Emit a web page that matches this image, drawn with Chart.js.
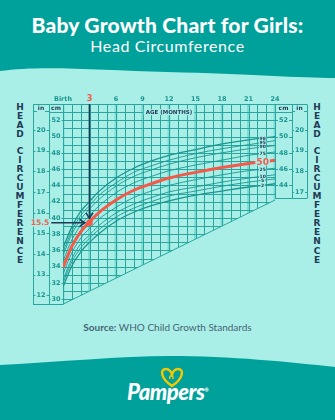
<!DOCTYPE html>
<html><head><meta charset="utf-8">
<script src="https://cdn.jsdelivr.net/npm/chart.js@4"></script>
<style>
html,body{margin:0;padding:0;}
body{width:335px;height:420px;overflow:hidden;position:relative;background:#a9efe8;font-family:Lato,"Open Sans",sans-serif;}
#bg{position:absolute;left:0;top:0;}
#c{position:absolute;left:0;top:0;}
.t{position:absolute;left:0;width:335px;text-align:center;white-space:nowrap;}
#title{top:14px;color:#fff;font-weight:900;font-size:21px;line-height:21px;letter-spacing:0.2px;}
#sub{top:37px;color:#fff;font-weight:400;font-size:16px;line-height:17px;letter-spacing:0.6px;}
#src{top:321px;color:#456472;font-size:10px;line-height:12px;}
#src b{font-weight:700;}
#logo{top:378px;color:#fff;font-weight:900;font-size:22px;line-height:24px;font-style:italic;letter-spacing:-0.5px;}
#logo sup{font-size:5px;font-style:normal;}
.v{position:absolute;width:12px;text-align:center;color:#1f3a55;font-weight:700;font-size:9px;line-height:9.05px;font-family:"DejaVu Sans",sans-serif;}
</style></head>
<body>
<svg id="bg" width="335" height="420">
  <path d="M0,0 H335 V78 C300,78 250,74 167,72 C100,70 40,65 0,71 Z" fill="#00a19b"/>
  <path d="M0,365 C60,362 120,356 170,356 C230,356 290,362 335,367 V420 H0 Z" fill="#00a19b"/>
  <path d="M172,386 C160,378 160,369 166,369 C170,369 172,373 172,376 C172,373 174,369 178,369 C184,369 184,378 172,386 Z" fill="none" stroke="#f6c800" stroke-width="2.4" stroke-linejoin="round"/>
  <path d="M170,379 C168,375 174,374 173,379" fill="none" stroke="#f6c800" stroke-width="1.4"/>
</svg>
<div class="t" id="title">Baby Growth Chart for Girls:</div>
<div class="t" id="sub">Head Circumference</div>
<div class="t" id="src"><b>Source:</b> WHO Child Growth Standards</div>
<div class="t" id="logo">Pampers<sup>®</sup></div>
<div class="v" style="left:14px;top:103px;">H<br>E<br>A<br>D</div>
<div class="v" style="left:14px;top:147px;">C<br>I<br>R<br>C<br>U<br>M<br>F<br>E<br>R<br>E<br>N<br>C<br>E</div>
<div class="v" style="left:311px;top:103px;">H<br>E<br>A<br>D</div>
<div class="v" style="left:311px;top:147px;">C<br>I<br>R<br>C<br>U<br>M<br>F<br>E<br>R<br>E<br>N<br>C<br>E</div>
<canvas id="c" width="335" height="420"></canvas>
<script>
// ---- data ----
const months = [0,1,2,3,4,6,8,10,12,15,18,21,24];
const p98 = [36.3,38.9,40.8,42.0,43.2,44.9,46.1,47.0,47.7,48.4,49.1,49.6,50.0];
const p95 = [35.8,38.4,40.3,41.5,42.7,44.3,45.6,46.4,47.1,47.9,48.5,49.0,49.5];
const p90 = [35.4,38.0,39.8,41.1,42.2,43.9,45.1,45.9,46.6,47.4,48.0,48.5,48.9];
const p75 = [34.7,37.3,39.1,40.3,41.4,43.1,44.3,45.1,45.8,46.5,47.1,47.7,48.1];
const p50 = [33.9,36.5,38.3,39.5,40.6,42.2,43.4,44.2,44.9,45.6,46.2,46.7,47.1];
const p25 = [33.1,35.7,37.5,38.7,39.8,41.3,42.5,43.3,44.0,44.7,45.3,45.8,46.1];
const p10 = [32.4,35.0,36.8,37.9,39.0,40.6,41.7,42.5,43.2,43.8,44.4,44.9,45.3];
const p5  = [32.0,34.6,36.3,37.5,38.5,40.1,41.2,42.0,42.7,43.3,43.9,44.4,44.8];
const p2  = [31.5,34.1,35.8,37.0,38.0,39.6,40.7,41.5,42.1,42.8,43.3,43.8,44.2];
const pctLabels = ['98','95','90','75','50','25','10','5','2'];
const xTickValues = [0,3,6,9,12,15,18,21,24];
const xTickLabels = ['Birth','3','6','9','12','15','18','21','24'];
const cmTicksLeft = [30,32,34,36,38,40,42,44,46,48,50,52];
const cmTicksRight = [44,46,48,50,52];
const inTicksLeft = [12,13,14,15,16,17,18,19,20];
const inTicksRight = [17,18,19,20];
const markMonth = 3, markCm = 39.4, markIn = '15.5';
const diagCmStart = 29.4, diagCmEnd = 42.2;   // slanted lower edge of the grid
const yMin = 29.3, yMax = 54;

const TEAL='#1b9690', GRID='#2aa69f', NAVY='#1e3a55', RED='#f35a4a', BG='#a9efe8';
const series=[p98,p95,p90,p75,p50,p25,p10,p5,p2];

const ds = series.map((arr,i)=>({
  label: pctLabels[i],
  data: arr.map((v,j)=>({x:months[j],y:v})),
  borderColor: pctLabels[i]==='50'?RED:TEAL,
  borderWidth: pctLabels[i]==='50'?3:((i===0||i===8)?1.3:0.9),
  pointRadius:0, fill:false, cubicInterpolationMode:'monotone',
  order: pctLabels[i]==='50'?0:1
}));

function line(ctx,x1,y1,x2,y2){ctx.beginPath();ctx.moveTo(x1,y1);ctx.lineTo(x2,y2);ctx.stroke();}
function interp(arr,m){for(let j=0;j<months.length-1;j++){if(m>=months[j]&&m<=months[j+1]){const t=(m-months[j])/(months[j+1]-months[j]);return arr[j]+(arr[j+1]-arr[j])*t;}}return arr[arr.length-1];}

const gridPlugin={
  id:'grid',
  beforeDatasetsDraw(c){
    const ctx=c.ctx,X=c.scales.x,Y=c.scales.y,a=c.chartArea;
    const dY=m=>Y.getPixelForValue(diagCmStart+(diagCmEnd-diagCmStart)*m/24);
    ctx.save();
    ctx.beginPath();ctx.moveTo(a.left,a.top);ctx.lineTo(a.right,a.top);
    ctx.lineTo(a.right,dY(24));ctx.lineTo(a.left,dY(0));ctx.closePath();ctx.clip();
    ctx.strokeStyle='rgba(70,200,190,0.45)';ctx.lineWidth=3;
    for(const m of xTickValues){const x=X.getPixelForValue(m);line(ctx,x,a.top,x,a.bottom);}
    ctx.strokeStyle=GRID;ctx.lineWidth=1;
    for(let m=0;m<=24;m++){const x=Math.round(X.getPixelForValue(m))+0.5;line(ctx,x,a.top,x,a.bottom);}
    for(let cm=30;cm<=54;cm++){const y=Math.round(Y.getPixelForValue(cm))+0.5;line(ctx,a.left,y,a.right,y);}
    ctx.restore();
    ctx.strokeStyle=GRID;ctx.lineWidth=1;
    line(ctx,a.left,dY(0),a.right,dY(24));
    const topY=Math.round(Y.getPixelForValue(54))+0.5, hdrY=Math.round(Y.getPixelForValue(53))+0.5;
    const botL=Math.round(dY(0))+0.5, botR=Math.round(dY(24))-1.5;
    const inL=a.left-30, cmL=a.left-14, cmR=a.right+17, inR=a.right+32;
    ctx.strokeStyle=GRID;
    line(ctx,inL+0.5,topY,inL+0.5,botL);line(ctx,cmL+0.5,topY,cmL+0.5,botL);line(ctx,a.left+0.5,topY,a.left+0.5,botL);
    line(ctx,inL,topY,a.left,topY);line(ctx,inL,botL,a.left,botL);
    line(ctx,cmR+0.5,topY,cmR+0.5,botR);line(ctx,inR+0.5,topY,inR+0.5,botR);line(ctx,a.right+0.5,topY,a.right+0.5,botR);
    line(ctx,a.right,topY,inR,topY);line(ctx,a.right,botR,inR,botR);
    line(ctx,cmL,hdrY,a.left,hdrY);line(ctx,a.right,hdrY,cmR,hdrY);
    ctx.fillStyle=NAVY;ctx.font='bold 6px "DejaVu Sans"';ctx.textAlign='center';ctx.textBaseline='middle';
    const hy=(topY+hdrY)/2;
    ctx.fillText('in',(inL+cmL)/2,hy);ctx.fillText('cm',(cmL+a.left)/2,hy);
    ctx.fillText('cm',(a.right+cmR)/2,hy);ctx.fillText('in',(cmR+inR)/2,hy);
    line(ctx,inL,hdrY-1,inL+4,hdrY-1);line(ctx,cmL-4,hdrY-1,cmL,hdrY-1);
    line(ctx,cmR,hdrY-1,cmR+3,hdrY-1);line(ctx,inR-3,hdrY-1,inR,hdrY-1);
    ctx.font='bold 6.5px "DejaVu Sans"';
    const tick=(l,r,y,txt,col)=>{
      ctx.fillStyle=col||TEAL;ctx.strokeStyle=GRID;
      const w=ctx.measureText(txt).width,cx=(l+r)/2;
      const yy=Math.round(y)+0.5;
      line(ctx,l,yy,cx-w/2-1,yy);line(ctx,cx+w/2+1,yy,r,yy);
      ctx.fillText(txt,cx,y);
    };
    for(const v of cmTicksLeft) tick(cmL,a.left,Y.getPixelForValue(v),String(v));
    for(const v of cmTicksRight) tick(a.right,cmR,Y.getPixelForValue(v),String(v));
    for(const v of inTicksLeft) tick(inL,cmL,Y.getPixelForValue(v*2.54),String(v));
    for(const v of inTicksRight) tick(cmR,inR,Y.getPixelForValue(v*2.54),String(v));
    ctx.textBaseline='middle';
    xTickValues.forEach((m,i)=>{
      const x=X.getPixelForValue(m);
      if(m===markMonth){ctx.fillStyle=RED;ctx.font='bold 8px "DejaVu Sans"';}
      else {ctx.fillStyle=TEAL;ctx.font='bold 6.5px "DejaVu Sans"';}
      ctx.fillText(xTickLabels[i],x,99);
    });
    ctx.font='bold 5.5px "DejaVu Sans"';
    const ay=Y.getPixelForValue(53), ax=(a.left+a.right)/2;
    const aw=ctx.measureText('AGE (MONTHS)').width;
    ctx.fillStyle=BG;ctx.fillRect(ax-aw/2-2,ay-3,aw+4,6);
    ctx.fillStyle=NAVY;ctx.fillText('AGE (MONTHS)',ax,ay+0.5);
  },
  afterDatasetsDraw(c){
    const ctx=c.ctx,X=c.scales.x,Y=c.scales.y,a=c.chartArea;
    const lm=22.6, lx=X.getPixelForValue(lm);
    series.forEach((arr,i)=>{
      const y=Y.getPixelForValue(interp(arr,lm));
      if(pctLabels[i]==='50'){
        ctx.font='bold 9px "DejaVu Sans"';const w=ctx.measureText('50').width;
        ctx.fillStyle=BG;ctx.fillRect(lx-w/2-1,y-4,w+2,8);
        ctx.fillStyle=RED;ctx.textAlign='center';ctx.textBaseline='middle';ctx.fillText('50',lx,y+0.5);
      } else {
        ctx.font='bold 4.5px "DejaVu Sans"';const w=ctx.measureText(pctLabels[i]).width;
        ctx.fillStyle=BG;ctx.fillRect(lx-w/2-0.5,y-1.8,w+1,3.6);
        ctx.fillStyle=NAVY;ctx.textAlign='center';ctx.textBaseline='middle';ctx.fillText(pctLabels[i],lx,y+0.3);
      }
    });
    const mx=X.getPixelForValue(markMonth), my=Y.getPixelForValue(markCm);
    ctx.strokeStyle=NAVY;ctx.fillStyle=NAVY;ctx.lineWidth=1.5;
    line(ctx,mx,Y.getPixelForValue(54),mx,my-5);
    ctx.beginPath();ctx.moveTo(mx-3.5,my-10);ctx.lineTo(mx,my-4.5);ctx.lineTo(mx+3.5,my-10);ctx.stroke();
    line(ctx,a.left-12,my,mx-5,my);
    ctx.beginPath();ctx.moveTo(mx-10,my-3.5);ctx.lineTo(mx-4.5,my);ctx.lineTo(mx-10,my+3.5);ctx.stroke();
    ctx.fillStyle=RED;ctx.beginPath();ctx.arc(mx,my,3.3,0,Math.PI*2);ctx.fill();
    ctx.font='bold 7.5px "DejaVu Sans"';ctx.textAlign='center';ctx.textBaseline='middle';
    const inL=a.left-30, cmL=a.left-14;
    const w=ctx.measureText(markIn).width;
    ctx.fillStyle=BG;ctx.fillRect((inL+cmL)/2-w/2-1,my-4,w+2,8);
    ctx.fillStyle=RED;ctx.fillText(markIn,(inL+cmL)/2-1,my+0.5);
  }
};

new Chart(document.getElementById('c'),{
  type:'line',
  data:{datasets:ds},
  options:{
    responsive:false,animation:false,devicePixelRatio:1,
    layout:{padding:{left:63,right:60,top:104,bottom:115}},
    plugins:{legend:{display:false},tooltip:{enabled:false}},
    scales:{
      x:{type:'linear',min:0,max:24,display:false},
      y:{min:yMin,max:yMax,display:false}
    }
  },
  plugins:[gridPlugin]
});
</script>
</body></html>
